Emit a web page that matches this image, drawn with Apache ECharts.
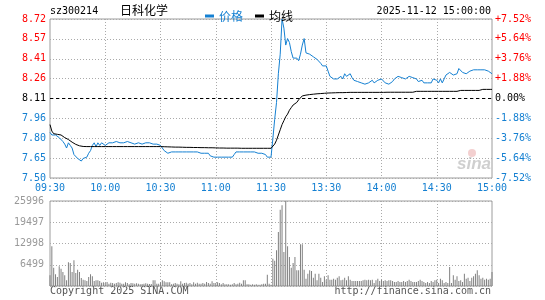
<!DOCTYPE html>
<html><head><meta charset="utf-8">
<script src="https://cdn.jsdelivr.net/npm/echarts@6/dist/echarts.min.js"></script>
<style>html,body{margin:0;padding:0;background:#fff}#c{width:545px;height:300px}</style>
</head><body><div id="c"></div>
<script>
const stockCode = 'sz300214';
const stockName = '日科化学';
const stamp = '2025-11-12 15:00:00';
const prevClose = 8.11;
const priceTicks = ['7.50','7.65','7.80','7.96','8.11','8.26','8.41','8.57','8.72'];
const pctTicks = ['-7.52%','-5.64%','-3.76%','-1.88%','0.00%','+1.88%','+3.76%','+5.64%','+7.52%'];
const xTickLabels = ['09:30','10:00','10:30','11:00','11:30','13:30','14:00','14:30','15:00'];

const price = [
7.85,7.83,7.82,7.83,7.82,7.81,7.80,7.78,7.76,7.73,
7.77,7.75,7.73,7.68,7.67,7.65,7.64,7.63,7.65,7.65,
7.66,7.69,7.71,7.75,7.77,7.74,7.77,7.75,7.77,7.76,
7.75,7.76,7.77,7.76,7.77,7.77,7.78,7.77,7.77,7.78,
7.77,7.77,7.78,7.78,7.77,7.77,7.76,7.77,7.77,7.76,
7.76,7.77,7.77,7.77,7.77,7.77,7.76,7.77,7.76,7.76,
7.75,7.73,7.71,7.70,7.69,7.69,7.70,7.70,7.70,7.71,
7.70,7.70,7.70,7.71,7.70,7.70,7.70,7.69,7.70,7.70,
7.70,7.70,7.69,7.70,7.69,7.69,7.69,7.67,7.68,7.66,
7.66,7.66,7.66,7.66,7.66,7.66,7.66,7.66,7.66,7.66,
7.68,7.70,7.71,7.70,7.71,7.70,7.70,7.70,7.71,7.70,
7.69,7.70,7.69,7.69,7.68,7.69,7.68,7.68,7.66,7.66,7.66,
7.80,7.95,8.08,8.30,8.45,8.72,8.65,8.52,8.57,8.54,
8.47,8.42,8.43,8.42,8.40,8.45,8.52,8.57,8.46,8.45,
8.45,8.44,8.43,8.42,8.41,8.40,8.38,8.36,8.36,8.36,
8.32,8.28,8.27,8.26,8.26,8.26,8.27,8.28,8.26,8.30,
8.28,8.27,8.30,8.27,8.25,8.25,8.24,8.24,8.23,8.22,
8.22,8.22,8.23,8.23,8.25,8.23,8.23,8.25,8.26,8.26,
8.25,8.23,8.23,8.22,8.23,8.24,8.26,8.27,8.28,8.29,
8.27,8.27,8.26,8.27,8.28,8.29,8.27,8.26,8.26,8.24,
8.25,8.25,8.23,8.24,8.23,8.24,8.23,8.26,8.25,8.25,
8.23,8.26,8.23,8.26,8.29,8.28,8.31,8.30,8.29,8.28,
8.30,8.34,8.33,8.31,8.30,8.30,8.30,8.32,8.33,8.33,
8.33,8.33,8.33,8.33,8.33,8.33,8.32,8.32,8.32,8.30
];

const avgPrice = [
7.91,7.86,7.84,7.84,7.835,7.835,7.83,7.82,7.81,7.805,
7.795,7.785,7.775,7.765,7.758,7.752,7.747,7.744,7.742,7.741,
7.741,7.741,7.741,7.741,7.741,7.741,7.741,7.741,7.741,7.741,
7.741,7.741,7.741,7.741,7.741,7.741,7.741,7.741,7.741,7.741,
7.741,7.741,7.741,7.741,7.741,7.741,7.741,7.741,7.741,7.741,
7.741,7.741,7.741,7.741,7.741,7.741,7.741,7.741,7.741,7.741,
7.741,7.741,7.740,7.740,7.739,7.739,7.738,7.738,7.737,7.737,
7.737,7.736,7.736,7.736,7.735,7.735,7.735,7.735,7.734,7.734,
7.734,7.734,7.733,7.733,7.733,7.733,7.732,7.732,7.732,7.731,
7.731,7.731,7.730,7.730,7.730,7.730,7.729,7.729,7.729,7.729,
7.729,7.729,7.729,7.729,7.728,7.728,7.728,7.728,7.728,7.728,
7.728,7.728,7.728,7.728,7.728,7.728,7.728,7.728,7.728,7.728,7.728,
7.73,7.76,7.79,7.83,7.87,7.91,7.94,7.97,7.99,8.02,
8.04,8.06,8.07,8.08,8.10,8.115,8.13,8.133,8.136,8.138,
8.14,8.141,8.143,8.145,8.146,8.147,8.148,8.149,8.15,8.151,
8.152,8.152,8.153,8.153,8.154,8.154,8.155,8.155,8.155,8.156,
8.156,8.156,8.157,8.157,8.157,8.157,8.157,8.157,8.157,8.157,
8.157,8.157,8.157,8.157,8.157,8.157,8.157,8.157,8.157,8.157,
8.157,8.157,8.158,8.158,8.158,8.158,8.158,8.158,8.158,8.158,
8.158,8.158,8.158,8.158,8.158,8.158,8.158,8.165,8.165,8.165,
8.165,8.165,8.165,8.165,8.165,8.165,8.165,8.165,8.165,8.165,
8.165,8.165,8.165,8.165,8.165,8.165,8.165,8.165,8.165,8.165,
8.165,8.172,8.172,8.172,8.172,8.172,8.172,8.172,8.172,8.172,
8.172,8.172,8.172,8.18,8.18,8.18,8.18,8.18,8.18,8.18
];

const volume = [
3260,12130,5600,3570,2750,6010,5300,4280,3260,1730,
7240,7030,4280,7850,3970,4990,4280,2450,1940,1730,
1530,2750,3570,2960,1530,1730,1730,1530,1020,1120,
920,1220,710,1020,920,710,920,1120,1020,710,
710,1120,920,510,920,820,710,820,710,510,
610,710,820,710,610,610,1730,1730,710,710,
1120,1730,1430,1120,1120,1120,510,710,920,710,
510,1430,710,920,1020,710,920,510,1120,710,
1020,710,710,920,710,1220,920,710,1430,920,
920,1120,920,510,920,510,510,510,410,510,
920,510,710,1020,710,1730,1730,510,510,410,
510,410,510,410,410,510,710,710,3460,710,410,
8360,7700,10900,16500,23340,24660,10390,25996,12130,8870,
5600,7030,8870,4790,4790,12740,12740,4990,2240,3770,
4790,4590,2550,3770,1730,3770,2550,1220,2960,1940,
3260,1940,1940,2240,1940,2550,2960,1730,1940,2550,
1730,2960,1940,1530,1530,1530,1530,1530,1530,1730,
1940,1730,1940,1730,1940,920,1730,2240,1530,1940,
1530,1730,1530,1730,1730,1530,1220,1220,1530,1220,
1220,1530,1220,1530,1940,1530,1220,1220,1220,1530,
1940,1530,1220,920,1220,920,1530,1220,1730,1940,
920,2240,1730,920,1220,920,5810,920,3260,1940,
2960,1530,1730,1220,3770,2240,2550,1530,2550,2960,
3770,4790,3260,2240,2550,1940,2240,1940,2240,4280
];

// minute categories: 09:30-11:30 and 13:01-15:00
const times = [];
function pad(n){return (n<10?'0':'')+n;}
for (let m = 9*60+30; m <= 11*60+30; m++) times.push(pad(Math.floor(m/60))+':'+pad(m%60));
for (let m = 13*60+1; m <= 15*60; m++) times.push(pad(Math.floor(m/60))+':'+pad(m%60));

const BLUE = '#1580d2', RED = '#ff0000', GRIDC = '#aaaaaa', BORDER = '#9c9c9c';
const MONO = '"DejaVu Sans Mono", monospace';
const CJK = '"Noto Sans CJK SC", sans-serif';
const tickIdx = v => Math.round(v / 1.88) + 4;
const tickColor = v => { const i = tickIdx(v); return i > 4 ? RED : (i === 4 ? '#000' : BLUE); };
const vSplit = i => i % 30 === 0 && i > 0 && i < times.length - 1;

const chart = echarts.init(document.getElementById('c'), null, {renderer:'canvas'});
chart.setOption({
  animation: false,
  grid: [
    {left:50, right:53, top:19, height:159, show:true, borderColor:BORDER, borderWidth:1, backgroundColor:'transparent'},
    {left:50, right:53, top:201, height:85, show:true, borderColor:BORDER, borderWidth:1, backgroundColor:'transparent'}
  ],
  legend: {
    left:200, top:5, itemWidth:9, itemHeight:3, itemGap:12, icon:'rect',
    textStyle:{fontFamily:CJK, fontSize:12},
    data:[{name:'价格', textStyle:{color:BLUE}}, {name:'均线', textStyle:{color:'#000'}}]
  },
  xAxis: [
    {type:'category', gridIndex:0, data:times, boundaryGap:false,
     axisLine:{show:false}, axisTick:{show:false},
     axisLabel:{interval:(i)=>i%30===0, color:BLUE, fontFamily:MONO, fontSize:10, margin:5,
       formatter:(v, i)=>xTickLabels[Math.round(i/30)]},
     splitLine:{show:true, interval:vSplit, lineStyle:{color:GRIDC, type:[1,2], width:1}}},
    {type:'category', gridIndex:1, data:times, boundaryGap:false,
     axisLine:{show:false}, axisTick:{show:false}, axisLabel:{show:false},
     splitLine:{show:true, interval:vSplit, lineStyle:{color:GRIDC, type:[1,2], width:1}}}
  ],
  yAxis: [
    {type:'value', gridIndex:0, position:'left', min:-7.52, max:7.52, interval:1.88,
     axisLine:{show:false}, axisTick:{show:false},
     splitLine:{show:true, lineStyle:{color:GRIDC, type:[1,2], width:1}},
     axisLabel:{fontFamily:MONO, fontSize:10, margin:4, formatter:v=>priceTicks[tickIdx(v)], color:tickColor}},
    {type:'value', gridIndex:0, position:'right', min:-7.52, max:7.52, interval:1.88,
     axisLine:{show:false}, axisTick:{show:false}, splitLine:{show:false},
     axisLabel:{fontFamily:MONO, fontSize:10, margin:3, formatter:v=>pctTicks[tickIdx(v)], color:tickColor}},
    {type:'value', gridIndex:0, show:false, min:7.50, max:8.72, splitLine:{show:false}},
    {type:'value', gridIndex:1, position:'left', min:0, max:25996, interval:6499,
     axisLine:{show:false}, axisTick:{show:false},
     splitLine:{show:true, lineStyle:{color:GRIDC, type:[1,2], width:1}},
     axisLabel:{fontFamily:MONO, fontSize:10, margin:6, color:'#999', formatter:v=>v===0?'':String(v)}}
  ],
  series: [
    {name:'价格', type:'line', xAxisIndex:0, yAxisIndex:2, data:price, showSymbol:false, symbol:'none',
     lineStyle:{color:BLUE, width:1}, itemStyle:{color:BLUE}, z:3,
     markLine:{silent:true, symbol:'none', label:{show:false}, animation:false,
       lineStyle:{color:'#000', type:[3,3], width:1}, data:[{yAxis:prevClose}]}},
    {name:'均线', type:'line', xAxisIndex:0, yAxisIndex:2, data:avgPrice, showSymbol:false, symbol:'none',
     lineStyle:{color:'#000', width:1}, itemStyle:{color:'#000'}, z:4},
    {name:'成交量', type:'bar', xAxisIndex:1, yAxisIndex:3, data:volume, barWidth:1,
     itemStyle:{color:'#808080'}}
  ],
  graphic: [
    {type:'text', left:50, top:6, style:{text:stockCode, font:'10px '+MONO, fill:'#000'}},
    {type:'text', left:120, top:4, style:{text:stockName, font:'12px '+CJK, fill:'#000'}},
    {type:'text', right:54, top:6, style:{text:stamp, font:'10px '+MONO, fill:'#000'}},
    {type:'text', left:50, top:286, style:{text:'Copyright 2025 SINA.COM', font:'10px '+MONO, fill:'#555'}},
    {type:'text', right:54, top:286, style:{text:'http://finance.sina.com.cn', font:'10px '+MONO, fill:'#555'}},
    {type:'text', left:457, top:156, style:{text:'sina', font:'italic bold 17px "Liberation Sans", sans-serif', fill:'#cfcfcf'}},
    {type:'circle', shape:{cx:472, cy:153, r:4}, style:{fill:'rgba(220,120,120,0.35)'}}
  ]
});
</script>
</body></html>
